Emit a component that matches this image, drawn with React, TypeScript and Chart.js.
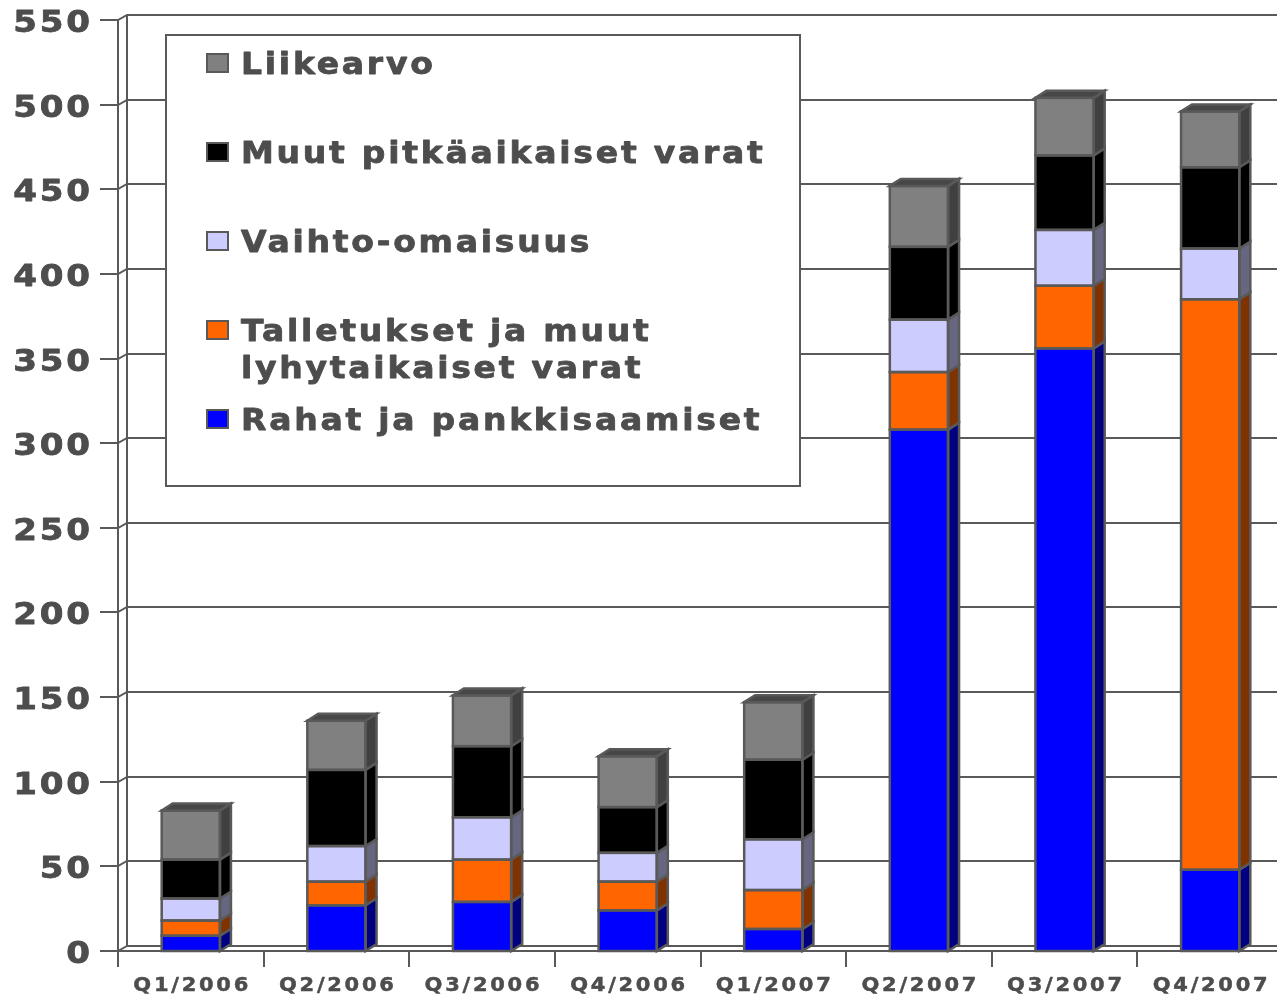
import React, { useEffect, useRef } from "react";
import { Chart, registerables } from "chart.js";

Chart.register(...registerables);

const categories = ["Q1/2006", "Q2/2006", "Q3/2006", "Q4/2006", "Q1/2007", "Q2/2007", "Q3/2007", "Q4/2007"];
const rahatJaPankkisaamiset = [9, 27, 29, 24, 13, 308, 356, 48];
const talletuksetJaMuut = [9, 14, 25, 17, 23, 34, 37, 337];
const vaihtoOmaisuus = [13, 21, 25, 17, 30, 31, 33, 30];
const muutPitkaaikaiset = [23, 45, 42, 27, 47, 43, 44, 48];
const liikearvo = [29, 29, 30, 30, 34, 36, 34, 33];
const yTickValues = [0, 50, 100, 150, 200, 250, 300, 350, 400, 450, 500, 550];

const seriesNames = [
  "Rahat ja pankkisaamiset",
  "Talletukset ja muut lyhytaikaiset varat",
  "Vaihto-omaisuus",
  "Muut pitkäaikaiset varat",
  "Liikearvo",
];
const seriesValues = [rahatJaPankkisaamiset, talletuksetJaMuut, vaihtoOmaisuus, muutPitkaaikaiset, liikearvo];
const frontColors = ["#0000ff", "#ff6600", "#ccccff", "#000000", "#808080"];
const sideColors = ["#000080", "#803300", "#666680", "#000000", "#404040"];
const topColor = "#474747";

const LINE = "#595959";
const TEXT = "#4d4d4d";
const FONT = "'DejaVu Sans', Verdana, sans-serif";
const WALL_DX = 9;
const WALL_DY = 5;
const BAR_DX = 11;
const BAR_DY = 7;

function drawText(
  ctx: CanvasRenderingContext2D,
  text: string,
  x: number,
  y: number,
  opts: { font: string; sx: number; spacing: number; align: CanvasTextAlign; weight: number }
) {
  ctx.save();
  ctx.font = opts.font;
  (ctx as any).letterSpacing = opts.spacing + "px";
  ctx.textAlign = opts.align;
  ctx.textBaseline = "alphabetic";
  let dx = 0;
  if (opts.align === "right") dx = opts.spacing;
  else if (opts.align === "center") dx = opts.spacing / 2;
  ctx.translate(x, y);
  ctx.scale(opts.sx, 1);
  ctx.fillStyle = TEXT;
  ctx.fillText(text, dx, 0);
  if (opts.weight > 0) {
    ctx.strokeStyle = TEXT;
    ctx.lineWidth = opts.weight;
    ctx.lineJoin = "round";
    ctx.strokeText(text, dx, 0);
  }
  ctx.restore();
}

function measure(ctx: CanvasRenderingContext2D, text: string, font: string, spacing: number, sx: number) {
  ctx.save();
  ctx.font = font;
  (ctx as any).letterSpacing = spacing + "px";
  const w = ctx.measureText(text).width * sx;
  ctx.restore();
  return w;
}

function wrapText(ctx: CanvasRenderingContext2D, text: string, maxW: number, font: string, spacing: number, sx: number): string[] {
  const words = text.split(" ");
  const lines: string[] = [];
  let cur = "";
  for (const w of words) {
    const test = cur ? cur + " " + w : w;
    if (cur && measure(ctx, test, font, spacing, sx) > maxW) {
      lines.push(cur);
      cur = w;
    } else {
      cur = test;
    }
  }
  if (cur) lines.push(cur);
  return lines;
}

const frame3d = {
  id: "frame3d",
  beforeDatasetsDraw(chart: any) {
    const { ctx, chartArea: a, scales } = chart;
    const x = scales.x;
    const y = scales.y;
    ctx.save();
    ctx.strokeStyle = LINE;
    ctx.lineWidth = 2;
    ctx.lineCap = "butt";
    for (const v of yTickValues) {
      const py = Math.round(y.getPixelForValue(v));
      ctx.beginPath();
      ctx.moveTo(a.left - 18, py);
      ctx.lineTo(a.left, py);
      ctx.lineTo(a.left + WALL_DX, py - WALL_DY);
      ctx.lineTo(chart.width, py - WALL_DY);
      ctx.stroke();
    }
    ctx.beginPath();
    ctx.moveTo(a.left + WALL_DX, a.bottom - WALL_DY);
    ctx.lineTo(a.left + WALL_DX, a.top - WALL_DY);
    ctx.stroke();
    ctx.beginPath();
    ctx.moveTo(a.left, a.bottom + 16);
    ctx.lineTo(a.left, a.top);
    ctx.stroke();
    ctx.beginPath();
    ctx.moveTo(a.left, a.bottom);
    ctx.lineTo(chart.width, a.bottom);
    ctx.stroke();
    for (let i = 1; i <= categories.length; i++) {
      const px = Math.round(x.getPixelForValue(i - 0.5));
      ctx.beginPath();
      ctx.moveTo(px, a.bottom);
      ctx.lineTo(px, a.bottom + 16);
      ctx.stroke();
    }
    ctx.restore();
    for (const v of yTickValues) {
      const py = y.getPixelForValue(v);
      drawText(ctx, String(v), a.left - 28, py + 12, {
        font: `bold 31px ${FONT}`,
        sx: 1.1,
        spacing: 2.5,
        align: "right",
        weight: 0.8,
      });
    }
    categories.forEach((c, i) => {
      const px = x.getPixelForValue(i);
      drawText(ctx, c, px, a.bottom + 40, {
        font: `bold 20px ${FONT}`,
        sx: 1.05,
        spacing: 2.6,
        align: "center",
        weight: 0.5,
      });
    });
  },
  afterDatasetsDraw(chart: any) {
    const { ctx } = chart;
    const n = chart.data.datasets.length;
    ctx.save();
    ctx.strokeStyle = LINE;
    ctx.lineWidth = 2.5;
    ctx.lineJoin = "miter";
    for (let d = 0; d < n; d++) {
      const meta = chart.getDatasetMeta(d);
      meta.data.forEach((el: any) => {
        const p = el.getProps(["x", "y", "base", "width"], true);
        const left = p.x - p.width / 2;
        const right = p.x + p.width / 2;
        const top = Math.min(p.y, p.base);
        const bottom = Math.max(p.y, p.base);
        if (bottom - top < 0.5) return;
        ctx.beginPath();
        ctx.moveTo(right, top);
        ctx.lineTo(right + BAR_DX, top - BAR_DY);
        ctx.lineTo(right + BAR_DX, bottom - BAR_DY);
        ctx.lineTo(right, bottom);
        ctx.closePath();
        ctx.fillStyle = sideColors[d];
        ctx.fill();
        ctx.stroke();
        ctx.strokeRect(left, top, right - left, bottom - top);
        if (d === n - 1) {
          ctx.beginPath();
          ctx.moveTo(left, top);
          ctx.lineTo(left + BAR_DX, top - BAR_DY);
          ctx.lineTo(right + BAR_DX, top - BAR_DY);
          ctx.lineTo(right, top);
          ctx.closePath();
          ctx.fillStyle = topColor;
          ctx.fill();
          ctx.stroke();
        }
      });
    }
    ctx.restore();
  },
  afterDraw(chart: any) {
    const { ctx, chartArea: a } = chart;
    const bl = a.left + 48;
    const bt = a.top + 15;
    const br = bl + 634;
    const bb = bt + 451;
    ctx.save();
    ctx.fillStyle = "#ffffff";
    ctx.fillRect(bl, bt, br - bl, bb - bt);
    ctx.strokeStyle = LINE;
    ctx.lineWidth = 2;
    ctx.strokeRect(bl, bt, br - bl, bb - bt);
    const font = `bold 30px ${FONT}`;
    const sx = 1.1;
    const spacing = 2.5;
    const ds = chart.data.datasets;
    const order = ds.map((_: any, i: number) => i).reverse();
    order.forEach((di: number, k: number) => {
      const baseY = bt + 39 + k * 89;
      const mx = bl + 41;
      ctx.fillStyle = ds[di].backgroundColor;
      ctx.fillRect(mx, baseY - 20, 21, 18);
      ctx.lineWidth = 2;
      ctx.strokeStyle = LINE;
      ctx.strokeRect(mx, baseY - 20, 21, 18);
      const lines = wrapText(ctx, ds[di].label, 550, font, spacing, sx);
      lines.forEach((ln, li) => {
        drawText(ctx, ln, bl + 75, baseY + li * 37, { font, sx, spacing, align: "left", weight: 0.8 });
      });
    });
    ctx.restore();
  },
};

export default function App() {
  const ref = useRef<HTMLCanvasElement | null>(null);
  useEffect(() => {
    const prevOverflow = document.body.style.overflow;
    document.body.style.overflow = "hidden";
    const canvas = ref.current!;
    const chart = new Chart(canvas, {
      type: "bar",
      data: {
        labels: categories,
        datasets: seriesValues.map((vals, i) => ({
          label: seriesNames[i],
          data: vals,
          backgroundColor: frontColors[i],
          borderWidth: 0,
          barPercentage: 0.4,
          categoryPercentage: 1,
        })),
      },
      options: {
        responsive: false,
        animation: false,
        devicePixelRatio: 1,
        layout: { padding: { left: 118, top: 20, right: 17, bottom: 44 } },
        plugins: { legend: { display: false }, tooltip: { enabled: false }, title: { display: false } },
        scales: {
          x: { type: "category", stacked: true, display: false, offset: true, grid: { display: false } },
          y: { type: "linear", stacked: true, display: false, min: 0, max: 550, ticks: { stepSize: 50 }, grid: { display: false } },
        },
      },
      plugins: [frame3d],
    });
    return () => {
      chart.destroy();
      document.body.style.overflow = prevOverflow;
    };
  }, []);
  return (
    <div style={{ position: "fixed", left: 0, top: 0, width: 1277, height: 995, overflow: "hidden", background: "#fff" }}>
      <canvas ref={ref} width={1300} height={995} style={{ display: "block", width: 1300, height: 995 }} />
    </div>
  );
}
